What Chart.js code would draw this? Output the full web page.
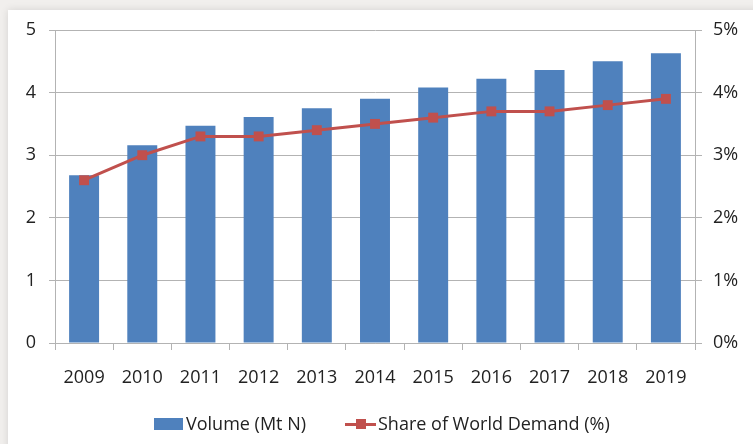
<!DOCTYPE html>
<html>
<head>
<meta charset="utf-8">
<script src="https://cdn.jsdelivr.net/npm/chart.js@4.4.1/dist/chart.umd.min.js"></script>
<style>
  html, body { margin: 0; padding: 0; background: #f1efed; }
  #card {
    position: absolute; left: 8px; top: 10px; width: 760px; height: 450px;
    background: #fff; box-shadow: 0 0 8px rgba(0,0,0,0.12);
  }
  #wrap { position: absolute; left: 0; top: 0; width: 753px; height: 444px; }
  .item {
    position: absolute; top: 411px; height: 24px; line-height: 24px;
    font-family: "Open Sans", sans-serif; font-size: 18px; color: #222; white-space: nowrap;
  }
  .box { display: inline-block; width: 29px; height: 12px; background: #4f81bd; vertical-align: middle; margin-right: 3px; position: relative; top: -1px; }
  .ln { display: inline-block; position: relative; width: 31px; height: 12px; vertical-align: middle; margin-right: 2px; top: -1px; }
  .ln:before { content: ""; position: absolute; left: 0; right: 0; top: 5px; height: 3px; background: #c0504d; }
  .ln:after { content: ""; position: absolute; left: 11px; top: 1px; width: 10px; height: 10px; background: #c0504d; }
</style>
</head>
<body>
<div id="card"></div>
<div id="wrap"><canvas id="mycanvas"></canvas></div>
<div class="item" style="left:154px"><span class="box"></span>Volume (Mt N)</div>
<div class="item" style="left:345px"><span class="ln"></span>Share of World Demand (%)</div>
<script>
var years = ["2009", "2010", "2011", "2012", "2013", "2014", "2015", "2016", "2017", "2018", "2019"];
var volume = [2.68, 3.16, 3.47, 3.61, 3.75, 3.90, 4.08, 4.22, 4.36, 4.50, 4.63];
var share = [2.6, 3.0, 3.3, 3.3, 3.4, 3.5, 3.6, 3.7, 3.7, 3.8, 3.9];

var font = { family: "'Open Sans', sans-serif", size: 18 };
var gridColor = "#b3b3b3";

var chartdata = {
    labels: years,
    datasets: [
        {
            type: "line",
            label: "Share of World Demand (%)",
            data: share,
            yAxisID: "y1",
            borderColor: "#c0504d",
            backgroundColor: "#c0504d",
            borderWidth: 3,
            pointStyle: "rect",
            pointRadius: 7,
            pointBorderWidth: 0,
            tension: 0,
            order: 0
        },
        {
            type: "bar",
            label: "Volume (Mt N)",
            data: volume,
            yAxisID: "y",
            backgroundColor: "#4f81bd",
            barPercentage: 0.515,
            categoryPercentage: 1,
            order: 1
        }
    ]
};

var ctx = document.getElementById("mycanvas");
var chart = new Chart(ctx, {
    data: chartdata,
    options: {
        responsive: true,
        maintainAspectRatio: false,
        animation: false,
        layout: { padding: { top: 30, left: 0, right: 0, bottom: 0 } },
        plugins: { legend: { display: false }, tooltip: { enabled: false } },
        scales: {
            x: {
                offset: true,
                grid: { offset: true, drawOnChartArea: false, tickLength: 7, color: gridColor },
                border: { color: gridColor },
                ticks: { font: font, color: "#222", padding: 17, maxRotation: 0 },
                afterFit: function (s) { s.height = 101; }
            },
            y: {
                position: "left",
                min: 0, max: 5,
                ticks: { stepSize: 1, font: font, color: "#222", padding: 13 },
                grid: { color: gridColor, tickLength: 6 },
                border: { color: gridColor },
                afterFit: function (s) { s.width = 55; }
            },
            y1: {
                position: "right",
                min: 0, max: 5,
                ticks: { stepSize: 1, font: font, color: "#222", padding: 11,
                    callback: function (v) { return v + "%"; } },
                grid: { drawOnChartArea: false, color: gridColor, tickLength: 7 },
                border: { color: gridColor },
                afterFit: function (s) { s.width = 58; }
            }
        }
    }
});
</script>
</body>
</html>
